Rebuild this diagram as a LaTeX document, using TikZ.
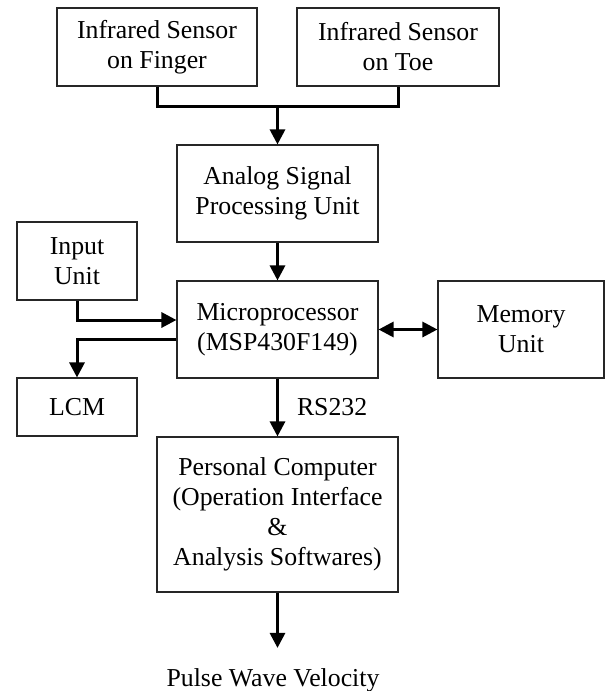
\documentclass[tikz,border=0pt]{standalone}
\usepackage{fontspec}
\setmainfont{Liberation Serif}
\usetikzlibrary{arrows.meta}

\newcommand{\wmax}{605}
\newcommand{\hmax}{691}
\newcommand{\midx}{277.5}

\begin{document}
\begin{tikzpicture}[x=1pt,y=-1pt,
    block/.style={draw=black!85,line width=1.1pt,inner sep=0pt,align=center,
                  font=\fontsize{25.8}{30}\selectfont},
    plain/.style={inner sep=0pt,font=\fontsize{25.8}{30}\selectfont},
    wire/.style={line width=3pt},
    arr/.style={wire,-{Triangle[width=15pt,length=15pt]}},
    darr/.style={wire,{Triangle[width=15pt,length=15pt]}-{Triangle[width=15pt,length=15pt]}}]
                    \useasboundingbox (0,0) rectangle (\wmax,\hmax);
                    \node[block,minimum width=200pt,minimum height=78pt] (finger) at (157,47) {Infrared Sensor\\on Finger};
                    \node[block,minimum width=202pt,minimum height=78pt] (toe) at (398,47) {Infrared Sensor\\on Toe};
                    \node[block,minimum width=201pt,minimum height=97pt] (asp) at (\midx,193.5) {Analog Signal\\Processing Unit};
                    \node[block,minimum width=120pt,minimum height=78pt] (input) at (77,261) {Input\\Unit};
                    \node[block,minimum width=201pt,minimum height=97pt] (micro) at (\midx,329.5) {Microprocessor\\(MSP430F149)};
                    \node[block,minimum width=166pt,minimum height=97pt] (memory) at (521,329.5) {Memory\\Unit};
                    \node[block,minimum width=120pt,minimum height=58pt] (lcm) at (77,407) {LCM};
                    \node[block,minimum width=241pt,minimum height=155pt] (pc) at (\midx,514.5) {Personal Computer\\(Operation Interface\\\&\\Analysis Softwares)};
                    \node[plain,anchor=base] (pwv) at (273,686) {Pulse Wave Velocity};
                    \coordinate (join) at (\midx,106);

                    \draw[wire] (finger.south) |- (join) -| (toe.south);
                    \draw[arr] (join) -- (asp.north);
                    \draw[arr] (asp) -- (micro);
                    \draw[arr] (input.south) |- ([yshift=9.5pt]micro.west);
                    \draw[arr] ([yshift=-9.5pt]micro.west) -| (lcm.north);
                    \draw[darr] (micro) -- (memory);
                    \draw[arr] (micro) -- (pc) node[plain,midway,right=18pt] {RS232};
                    \draw[arr] (pc.south) -- ([yshift=20pt]pc.south |- pwv.north);
                \end{tikzpicture}
\end{document}
